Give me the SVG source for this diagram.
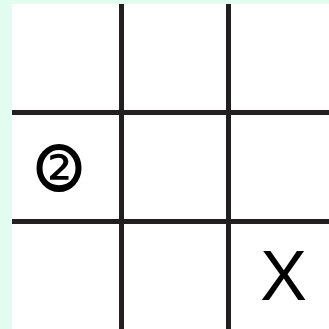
<svg xmlns="http://www.w3.org/2000/svg" width="329" height="329" viewBox="0 0 329 329">
<style>
.grid{stroke:#231f20;stroke-width:5;fill:none}
.t{font-family:"DejaVu Sans","Liberation Sans",sans-serif;fill:#000}
.ring{fill:none;stroke:#000;stroke-width:6}
</style>
<rect x="0" y="0" width="329" height="329" fill="#e2fcf0"/>
<rect x="12" y="4" width="317" height="325" fill="#ffffff"/>
<g id="connectors">
<line class="grid" x1="121.5" y1="4" x2="121.5" y2="329"/>
<line class="grid" x1="228.5" y1="4" x2="228.5" y2="329"/>
<line class="grid" x1="12" y1="112.5" x2="329" y2="112.5"/>
<line class="grid" x1="12" y1="221.5" x2="329" y2="221.5"/>
</g>
<g id="node-circled-2">
<text class="t" x="59" y="187" font-size="56" text-anchor="middle">②</text>
<ellipse class="ring" cx="59" cy="168" rx="19.5" ry="21"/>
</g>
<g id="node-x">
<text x="283.5" y="300" font-family="'Liberation Sans',Arial,sans-serif" font-size="70" text-anchor="middle">X</text>
</g>
</svg>
